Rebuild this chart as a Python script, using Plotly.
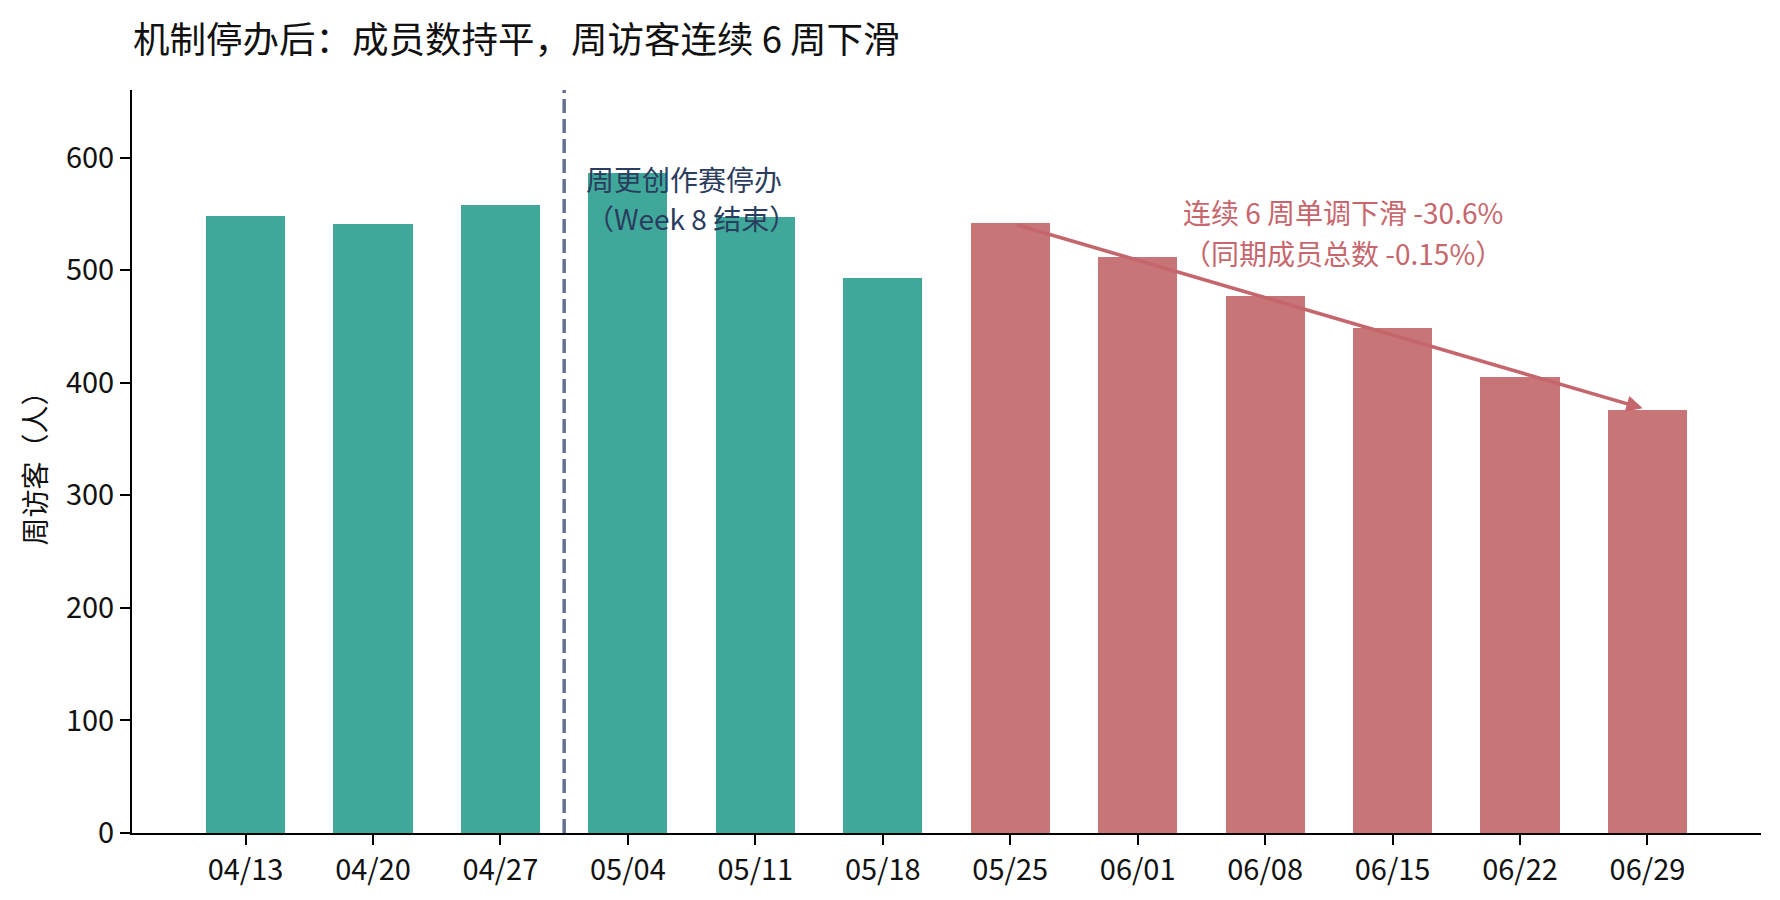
import plotly.graph_objects as go

# weekly visitors
weeks = ["04/13", "04/20", "04/27", "05/04", "05/11", "05/18",
         "05/25", "06/01", "06/08", "06/15", "06/22", "06/29"]
visitors = [548, 541, 558, 586, 547, 493, 542, 512, 477, 449, 405, 376]
decline_start = 6          # first week of the 6-week slide (05/25)
stop_after = 2.5           # contest stopped between 04/27 and 05/04
yticks = [0, 100, 200, 300, 400, 500, 600]

TEAL = "#3FA89A"
RED = "#C77577"
ARROW = "#C4666B"
FONT = "Noto Sans CJK SC"

idx = list(range(len(weeks)))
colors = [TEAL if i < decline_start else RED for i in idx]

fig = go.Figure()
fig.add_trace(go.Bar(x=idx, y=visitors, width=0.62, marker=dict(color=colors, line=dict(width=0)),
                     showlegend=False, hoverinfo="skip"))

# dashed marker for the end of the weekly contest
fig.add_shape(type="line", xref="x", yref="paper", x0=stop_after, x1=stop_after, y0=0, y1=1,
              line=dict(color="#627190", width=3.5, dash="14px,6px"))

fig.add_annotation(x=stop_after + 0.155, y=581, xref="x", yref="y", text="周更创作赛停办",
                   showarrow=False, xanchor="left", yanchor="middle",
                   font=dict(family=FONT, size=28, color="#2B3D5E"))
fig.add_annotation(x=stop_after + 0.155, y=546, xref="x", yref="y", text="（Week 8 结束）",
                   showarrow=False, xanchor="left", yanchor="middle",
                   font=dict(family=FONT, size=28, color="#2B3D5E"))

# trend arrow across the decline
fig.add_annotation(x=idx[-1], y=visitors[-1], ax=idx[decline_start], ay=visitors[decline_start],
                   xref="x", yref="y", axref="x", ayref="y", text="",
                   showarrow=True, arrowhead=2, arrowsize=0.9, arrowwidth=3.6, arrowcolor=ARROW,
                   standoff=5, startstandoff=5)

drop = (visitors[-1] / visitors[decline_start] - 1) * 100
fig.add_annotation(x=8.61, y=552, xref="x", yref="y",
                   text=f"连续 6 周单调下滑 {drop:.1f}%", showarrow=False,
                   xanchor="center", yanchor="middle",
                   font=dict(family=FONT, size=28, color="#C7676D"))
fig.add_annotation(x=8.61, y=515, xref="x", yref="y",
                   text="（同期成员总数 -0.15%）", showarrow=False,
                   xanchor="center", yanchor="middle",
                   font=dict(family=FONT, size=28, color="#C7676D"))

# y label
fig.add_annotation(x=-0.0602, y=0.5, xref="paper", yref="paper", text="周访客（人）",
                   textangle=-90, showarrow=False, xanchor="center", yanchor="middle",
                   font=dict(family=FONT, size=28, color="#111111"))

fig.update_xaxes(range=[-0.891, 11.891], tickmode="array", tickvals=idx, ticktext=weeks,
                 showline=True, linecolor="black", linewidth=2, ticks="outside",
                 ticklen=10, tickwidth=2, tickcolor="black", showgrid=False, zeroline=False,
                 tickfont=dict(family=FONT, size=29, color="#111111"))
fig.update_yaxes(range=[0, 660], tickmode="array", tickvals=yticks,
                 showline=True, linecolor="black", linewidth=2, ticks="outside",
                 ticklen=10, tickwidth=2, tickcolor="black", showgrid=False, zeroline=False,
                 tickfont=dict(family=FONT, size=29, color="#111111"))

fig.update_layout(
    width=1780, height=900,
    margin=dict(l=132, r=19, t=90, b=65),
    plot_bgcolor="white", paper_bgcolor="white",
    title=dict(text="机制停办后：成员数持平，周访客连续 6 周下滑",
               x=133 / 1780, xanchor="left", xref="container",
               y=1 - 40 / 900, yanchor="middle", yref="container",
               font=dict(family=FONT, size=36.5, color="#111111")),
    bargap=0,
)

# drop the browser's default body margin so the figure sits at the window corner
fig.write_html("out.html", config={"displayModeBar": False},
               post_script="document.body.style.margin='0';")
